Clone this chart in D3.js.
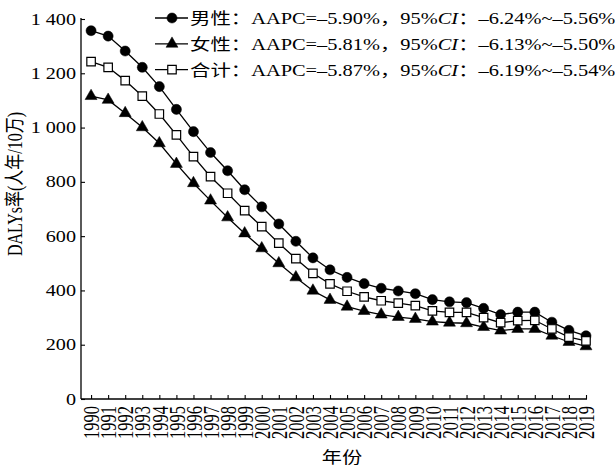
<!DOCTYPE html>
<html>
<head>
<meta charset="utf-8">
<script src="https://cdn.jsdelivr.net/npm/d3@7"></script>
<style>
  body { margin: 0; background: #fff; }
  svg { display: block; }
  text { font-family: "Liberation Serif", "Times New Roman", "Noto Sans CJK SC", serif; fill: #000; }
</style>
</head>
<body>
<div id="chart"></div>
<script>
// data
const years = d3.range(1990, 2020);
const male = [1357, 1337, 1282, 1222, 1151, 1067, 985, 908, 841, 771, 708, 645, 581, 520, 476, 448, 425, 408, 398, 388, 366, 358, 355, 334, 311, 320, 320, 283, 253, 233];
const female = [1116, 1102, 1053, 1001, 942, 866, 795, 731, 669, 610, 555, 500, 448, 399, 365, 340, 324, 311, 302, 295, 285, 281, 279, 265, 252, 258, 258, 233, 210, 194];
const total = [1243, 1222, 1173, 1116, 1050, 973, 893, 819, 758, 694, 635, 574, 517, 463, 424, 397, 376, 362, 353, 344, 325, 319, 319, 300, 281, 289, 290, 258, 228, 214];
const yTicks = [0, 200, 400, 600, 800, 1000, 1200, 1400];
const yTickLabels = ["0", "200", "400", "600", "800", "1 000", "1 200", "1 400"];
const legendNames = ["男性", "女性", "合计"];
const legendAapc = ["–5.90%", "–5.81%", "–5.87%"];
const legendCi = ["–6.24%~–5.56%", "–6.13%~–5.50%", "–6.19%~–5.54%"];

const W = 615, H = 470;
const sx = 1.26; // the reference text is drawn horizontally stretched
const fontSize = 16;

const svg = d3.select("#chart").append("svg")
    .attr("width", W)
    .attr("height", H);

const x = d3.scaleLinear().domain([1989.41, 2019]).range([81, 586]);
const y = d3.scaleLinear().domain([0, 1400]).range([399, 19]);

// x axis
const xAxis = svg.append("g")
    .attr("transform", `translate(0, ${y(0)})`)
    .call(d3.axisBottom(x).tickValues(years).tickFormat(d => String(d))
        .tickSizeInner(-4).tickSizeOuter(0).tickPadding(0));
xAxis.select(".domain").attr("d", `M${x.range()[0]},0H${x(2019) + 1}`)
    .attr("stroke", "#000").attr("stroke-width", 1.3);
xAxis.selectAll(".tick line").attr("stroke", "#000").attr("stroke-width", 1.1);
xAxis.selectAll(".tick text")
    .attr("font-size", fontSize + 0.5)
    .attr("text-anchor", "end")
    .attr("x", 0).attr("y", 0).attr("dy", null)
    .attr("transform", `translate(0, 7) scale(1.38, 1) rotate(-90) translate(0, 5.6)`);

// y axis
const yAxis = svg.append("g")
    .attr("transform", `translate(${x.range()[0]}, 0)`)
    .call(d3.axisLeft(y).tickValues(yTicks).tickFormat((d, i) => yTickLabels[i])
        .tickSizeInner(-4).tickSizeOuter(0).tickPadding(0));
yAxis.select(".domain").attr("d", `M0,${y(0)}V${y(1400) - 1}`)
    .attr("stroke", "#000").attr("stroke-width", 1.3);
yAxis.selectAll(".tick line").attr("stroke", "#000").attr("stroke-width", 1.1);
yAxis.selectAll(".tick text")
    .attr("font-size", fontSize)
    .attr("x", 0)
    .attr("transform", `translate(-5, 0) scale(${sx}, 1)`);

// axis titles
svg.append("text")
    .attr("font-size", fontSize)
    .attr("text-anchor", "middle")
    .attr("transform", `translate(22, 184) scale(${sx}, 1) rotate(-90)`)
    .text("DALYs率(人年/10万)");
svg.append("text")
    .attr("font-size", fontSize)
    .attr("text-anchor", "middle")
    .attr("transform", `translate(342, 463) scale(${sx}, 1)`)
    .text("年份");

// series
const series = [
    { values: male, symbol: d3.symbolCircle, size: 80, fill: "#000" },
    { values: female, symbol: d3.symbolTriangle, size: 62, fill: "#000" },
    { values: total, symbol: d3.symbolSquare, size: 72, fill: "#fff" }
];

const line = d3.line().x(d => x(d.year)).y(d => y(d.value));

series.forEach(s => {
    const pts = years.map((yr, i) => ({ year: yr, value: s.values[i] }));
    svg.append("path")
        .attr("d", line(pts))
        .attr("fill", "none")
        .attr("stroke", "#000")
        .attr("stroke-width", 1.3);
    svg.append("g").selectAll("path")
        .data(pts)
        .join("path")
        .attr("d", d3.symbol(s.symbol).size(s.size))
        .attr("transform", d => `translate(${x(d.year)}, ${y(d.value)})`)
        .attr("fill", s.fill)
        .attr("stroke", "#000")
        .attr("stroke-width", s.fill === "#fff" ? 1.2 : 0.5);
});

// legend
const legend = svg.append("g");
series.forEach((s, i) => {
    const ly = 18 + i * 25.8;
    legend.append("line")
        .attr("x1", 155).attr("x2", 188)
        .attr("y1", ly).attr("y2", ly)
        .attr("stroke", "#000").attr("stroke-width", 1.3);
    legend.append("path")
        .attr("d", d3.symbol(s.symbol).size(s.size))
        .attr("transform", `translate(172, ${ly})`)
        .attr("fill", s.fill)
        .attr("stroke", "#000")
        .attr("stroke-width", s.fill === "#fff" ? 1.2 : 0.5);
    const t = legend.append("text")
        .attr("font-size", fontSize)
        .attr("transform", `translate(190, ${ly + 6}) scale(1.275, 1)`);
    t.append("tspan").text(`${legendNames[i]}：AAPC=${legendAapc[i]}，95%`);
    t.append("tspan").attr("font-style", "italic").text("CI");
    t.append("tspan").text(`：${legendCi[i]}`);
});
</script>
</body>
</html>
